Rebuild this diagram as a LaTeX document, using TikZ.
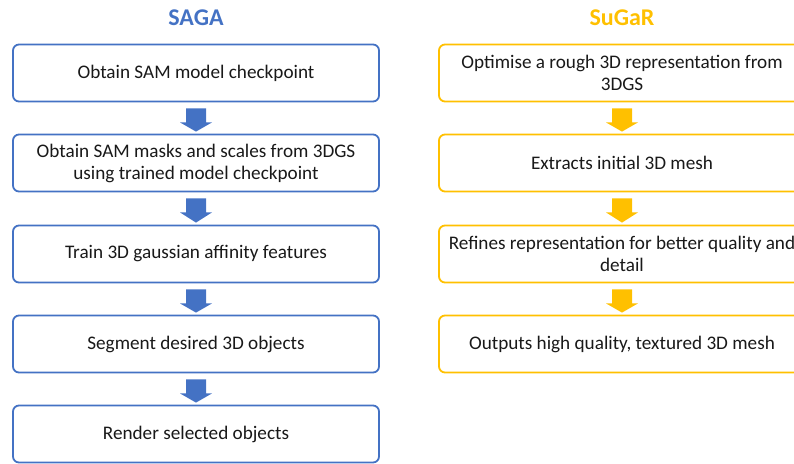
\documentclass[tikz,border=0pt]{standalone}
\usepackage{fontspec}
\setmainfont{Carlito}
\usetikzlibrary{calc}
\definecolor{sagablue}{HTML}{4472C4}
\definecolor{sugaryellow}{HTML}{FFC000}
\tikzset{
  box/.style={draw, line width=1.8pt, rounded corners=6pt, fill=white,
    minimum width=366pt, minimum height=57pt, inner sep=0pt,
    align=center, font=\fontsize{19.2}{22}\selectfont, text=black!90},
  bluebox/.style={box, draw=sagablue},
  yellowbox/.style={box, draw=sugaryellow},
  title/.style={font=\fontsize{24}{28}\selectfont\bfseries},
}
\newcommand{\blockarrow}[3]{%
  \fill[#3] ($(#1.south)+(-10,6)$) -- ($(#1.south)+(10,6)$) -- ($(#1.south)+(10,20)$)
    -- ($(#1.south)+(16,20)$) -- ($(#2.north)+(0,-2)$) -- ($(#1.south)+(-16,20)$)
    -- ($(#1.south)+(-10,20)$) -- cycle;}
\begin{document}
\begin{tikzpicture}[x=1pt,y=-1pt]
\useasboundingbox (0,0) rectangle (794,463);
\clip (0,0) rectangle (794,463);
\node[title, text=sagablue] (t1) at (196,18) {SAGA};
\node[title, text=sugaryellow] (t2) at (622,18) {SuGaR};
\node[bluebox] (a1) at (196,73) {Obtain SAM model checkpoint};
\node[bluebox] (a2) at (196,163) {Obtain SAM masks and scales from 3DGS\\using trained model checkpoint};
\node[bluebox] (a3) at (196,254) {Train 3D gaussian affinity features};
\node[bluebox] (a4) at (196,344) {Segment desired 3D objects};
\node[bluebox] (a5) at (196,434) {Render selected objects};
\node[yellowbox] (b1) at (622,73) {Optimise a rough 3D representation from\\3DGS};
\node[yellowbox] (b2) at (622,163) {Extracts initial 3D mesh};
\node[yellowbox] (b3) at (622,254) {Refines representation for better quality and\\detail};
\node[yellowbox] (b4) at (622,344) {Outputs high quality, textured 3D mesh};
\blockarrow{a1}{a2}{sagablue}
\blockarrow{a2}{a3}{sagablue}
\blockarrow{a3}{a4}{sagablue}
\blockarrow{a4}{a5}{sagablue}
\blockarrow{b1}{b2}{sugaryellow}
\blockarrow{b2}{b3}{sugaryellow}
\blockarrow{b3}{b4}{sugaryellow}
\end{tikzpicture}
\end{document}
